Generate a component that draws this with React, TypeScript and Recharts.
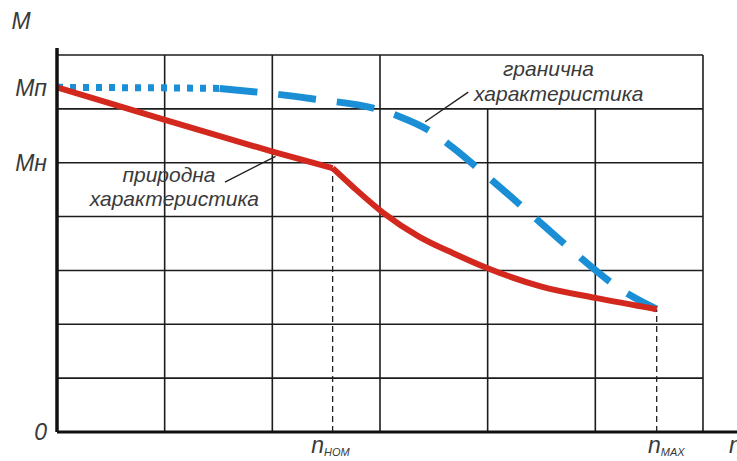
import React from "react";
import { LineChart, Line, XAxis, YAxis, ReferenceLine, ReferenceDot } from "recharts";

// natural characteristic (red): before and after nominal speed
const redAN = [0, 1.01, 2.01, 2.56];
const redAM = [6.4, 5.79, 5.2, 4.9];
const redBN = [2.56, 2.75, 3.03, 3.37, 3.68, 4.0, 4.5, 5.0, 5.57];
const redBM = [4.9, 4.55, 4.07, 3.62, 3.32, 3.04, 2.7, 2.49, 2.28];

// limit characteristic (blue): dotted start, dashed remainder
const blueDotN = [0, 1.0, 1.51];
const blueDotM = [6.4, 6.39, 6.38];
const blueDashN = [1.51, 2.4, 3.0, 3.19, 3.48, 3.67, 3.93, 4.37, 4.79, 5.22, 5.57];
const blueDashM = [6.38, 6.18, 5.98, 5.85, 5.57, 5.29, 4.86, 4.1, 3.36, 2.67, 2.28];

// grid
const gridRows = [1, 2, 3, 4, 5, 6, 7];
const gridCols = [1, 2, 3, 4, 5, 6];
const gridColTops = [7, 7, 7, 6, 6, 7];

// special speeds
const nNom = 2.56;
const mNom = 4.9;
const nMax = 5.57;
const mMax = 2.28;

// tick labels
const yTickValues = [0, 5, 6.39];
const yTickLabels = ["0", "Мн", "Мп"];
const xTickValues = [2.54, 5.66, 6.3];
const xTickMain = ["n", "n", "n"];
const xTickSubs = ["НОМ", "MAX", ""];

// annotations
const annotations = [
  { n: -0.334, m: 7.63, text: "М", size: 23 },
  { n: 1.04, m: 4.78, text: "природна", size: 21 },
  { n: 1.09, m: 4.33, text: "характеристика", size: 21 },
  { n: 4.565, m: 6.75, text: "гранична", size: 21 },
  { n: 4.66, m: 6.29, text: "характеристика", size: 21 },
];
const leaders = [
  [{ x: 1.56, y: 4.64 }, { x: 2.03, y: 5.12 }],
  [{ x: 3.82, y: 6.31 }, { x: 3.42, y: 5.76 }],
];

const zip = (ns: number[], ms: number[]) => ns.map((n, i) => ({ n, m: ms[i] }));
const redA = zip(redAN, redAM);
const redB = zip(redBN, redBM);
const blueDot = zip(blueDotN, blueDotM);
const blueDash = zip(blueDashN, blueDashM);

const FONT = "'Liberation Sans', Arial, sans-serif";
const TEXT = "#3a3a3a";
const GRID = "#1c1c1c";
const RED = "#d3281e";
const BLUE = "#1a8fd6";

const YTick = (p: any) => {
  const i = yTickValues.indexOf(p.payload.value);
  return (
    <text x={p.x} y={p.y} textAnchor="end" dominantBaseline="central" fontFamily={FONT}
      fontStyle="italic" fontSize={23} fill={TEXT}>
      {yTickLabels[i]}
    </text>
  );
};

const XTick = (p: any) => {
  const i = xTickValues.indexOf(p.payload.value);
  return (
    <text x={p.x} y={p.y + 21} textAnchor="middle" fontFamily={FONT} fontStyle="italic" fill={TEXT}>
      <tspan fontSize={23}>{xTickMain[i]}</tspan>
      {xTickSubs[i] ? <tspan fontSize={11} dy={3}>{xTickSubs[i]}</tspan> : null}
    </text>
  );
};

export default function App() {
  return (
    <div style={{ position: "absolute", left: 0, top: 0, background: "#fff" }}>
      <LineChart width={737} height={461} margin={{ top: 48, right: 0, bottom: 0, left: 0 }}>
        <XAxis type="number" dataKey="n" domain={[0, 6.316]} allowDataOverflow ticks={xTickValues}
          interval={0} tickLine={false} tickSize={0} tickMargin={0} height={29}
          axisLine={{ stroke: "#111", strokeWidth: 3 }} tick={<XTick />} />
        <YAxis type="number" domain={[0, 7.13]} allowDataOverflow ticks={yTickValues} interval={0}
          tickLine={false} tickSize={0} tickMargin={10} width={57}
          axisLine={{ stroke: "#111", strokeWidth: 3.5 }} tick={<YTick />} />
        {gridRows.map((r) => (
          <ReferenceLine key={"r" + r} segment={[{ x: 0, y: r }, { x: 6, y: r }]}
            stroke={GRID} strokeWidth={1.6} ifOverflow="visible" />
        ))}
        {gridCols.map((c, i) => (
          <ReferenceLine key={"c" + c} segment={[{ x: c, y: 0 }, { x: c, y: gridColTops[i] }]}
            stroke={GRID} strokeWidth={1.6} ifOverflow="visible" />
        ))}
        <ReferenceLine segment={[{ x: nNom, y: 0 }, { x: nNom, y: mNom }]} stroke="#222"
          strokeWidth={1.3} strokeDasharray="6 4" ifOverflow="visible" />
        <ReferenceLine segment={[{ x: nMax, y: 0 }, { x: nMax, y: mMax }]} stroke="#222"
          strokeWidth={1.3} strokeDasharray="6 4" ifOverflow="visible" />
        {leaders.map((s, i) => (
          <ReferenceLine key={"l" + i} segment={s} stroke="#222" strokeWidth={1.4} ifOverflow="visible" />
        ))}
        <Line data={blueDot} dataKey="m" type="linear" stroke={BLUE} strokeWidth={7}
          strokeDasharray="6 7" dot={false} activeDot={false} isAnimationActive={false} />
        <Line data={blueDash} dataKey="m" type="monotone" stroke={BLUE} strokeWidth={7}
          strokeDasharray="38 21" dot={false} activeDot={false} isAnimationActive={false} />
        <Line data={redA} dataKey="m" type="linear" stroke={RED} strokeWidth={6}
          strokeLinejoin="round" dot={false} activeDot={false} isAnimationActive={false} />
        <Line data={redB} dataKey="m" type="monotone" stroke={RED} strokeWidth={6}
          strokeLinejoin="round" dot={false} activeDot={false} isAnimationActive={false} />
        {annotations.map((a, i) => (
          <ReferenceDot key={"a" + i} x={a.n} y={a.m} r={0} ifOverflow="visible"
            shape={(p: any) => (
              <text x={p.cx} y={p.cy} textAnchor="middle" dominantBaseline="central"
                fontFamily={FONT} fontStyle="italic" fontSize={a.size} fill={TEXT}>
                {a.text}
              </text>
            )} />
        ))}
      </LineChart>
    </div>
  );
}
